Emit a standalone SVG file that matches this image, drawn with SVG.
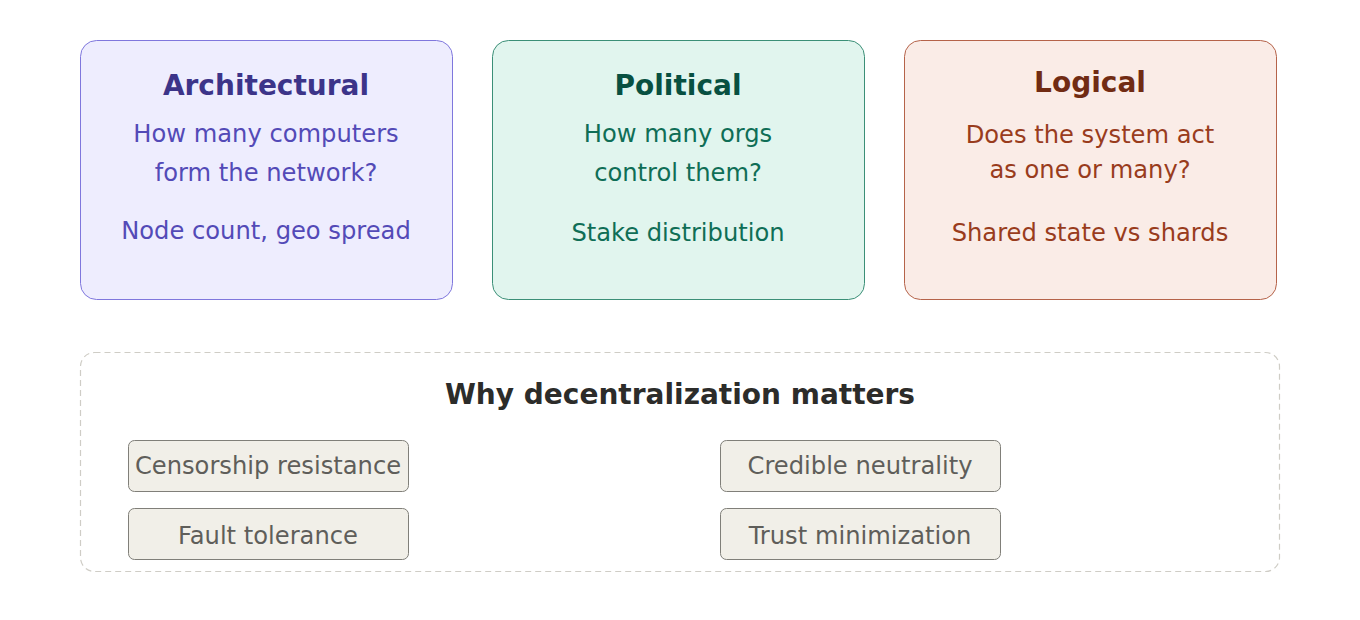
<svg xmlns="http://www.w3.org/2000/svg" width="1360" height="620" viewBox="0 0 1360 620">
<style>
  text { font-family: "DejaVu Sans", Verdana, sans-serif; text-anchor: middle; }
  .title { font-size: 28px; font-weight: bold; }
  .body { font-size: 24.2px; }
  .pill rect { fill: #f1efe8; stroke: #807f79; stroke-width: 1; }
  .pill text { font-size: 24.2px; fill: #5f5e5a; }
</style>
<rect width="1360" height="620" fill="#ffffff"/>
<g id="architectural">
  <rect x="80.5" y="40.5" width="372" height="259" rx="16" fill="#eeedfe" stroke="#7f77dd"/>
  <text class="title" x="266" y="95" fill="#3c3489">Architectural</text>
  <text class="body" x="266" y="142" fill="#534ab7">How many computers</text>
  <text class="body" x="266" y="181" fill="#534ab7">form the network?</text>
  <text class="body" x="266" y="239" fill="#534ab7">Node count, geo spread</text>
</g>
<g id="political">
  <rect x="492.5" y="40.5" width="372" height="259" rx="16" fill="#e1f5ee" stroke="#3b8f77"/>
  <text class="title" x="678" y="95" fill="#085041">Political</text>
  <text class="body" x="678" y="142" fill="#0f6e56">How many orgs</text>
  <text class="body" x="678" y="181" fill="#0f6e56">control them?</text>
  <text class="body" x="678" y="241" fill="#0f6e56">Stake distribution</text>
</g>
<g id="logical">
  <rect x="904.5" y="40.5" width="372" height="259" rx="16" fill="#faece7" stroke="#b5634a"/>
  <text class="title" x="1090" y="92" fill="#712b13">Logical</text>
  <text class="body" x="1090" y="143" fill="#993c1d">Does the system act</text>
  <text class="body" x="1090" y="178" fill="#993c1d">as one or many?</text>
  <text class="body" x="1090" y="241" fill="#993c1d">Shared state vs shards</text>
</g>
<g id="why">
  <rect x="80.5" y="352.5" width="1199" height="219" rx="14" fill="none" stroke="#cfcdc6" stroke-width="1.2" stroke-dasharray="6 4"/>
  <text class="title" x="680" y="404" fill="#2c2c2a">Why decentralization matters</text>
</g>
<g id="censorship" class="pill">
  <rect x="128.5" y="440.5" width="280" height="51" rx="6"/>
  <text x="268" y="474">Censorship resistance</text>
</g>
<g id="fault" class="pill">
  <rect x="128.5" y="508.5" width="280" height="51" rx="6"/>
  <text x="268" y="544">Fault tolerance</text>
</g>
<g id="neutrality" class="pill">
  <rect x="720.5" y="440.5" width="280" height="51" rx="6"/>
  <text x="860" y="474">Credible neutrality</text>
</g>
<g id="trust" class="pill">
  <rect x="720.5" y="508.5" width="280" height="51" rx="6"/>
  <text x="860" y="544">Trust minimization</text>
</g>
<g id="connectors"></g>
</svg>
